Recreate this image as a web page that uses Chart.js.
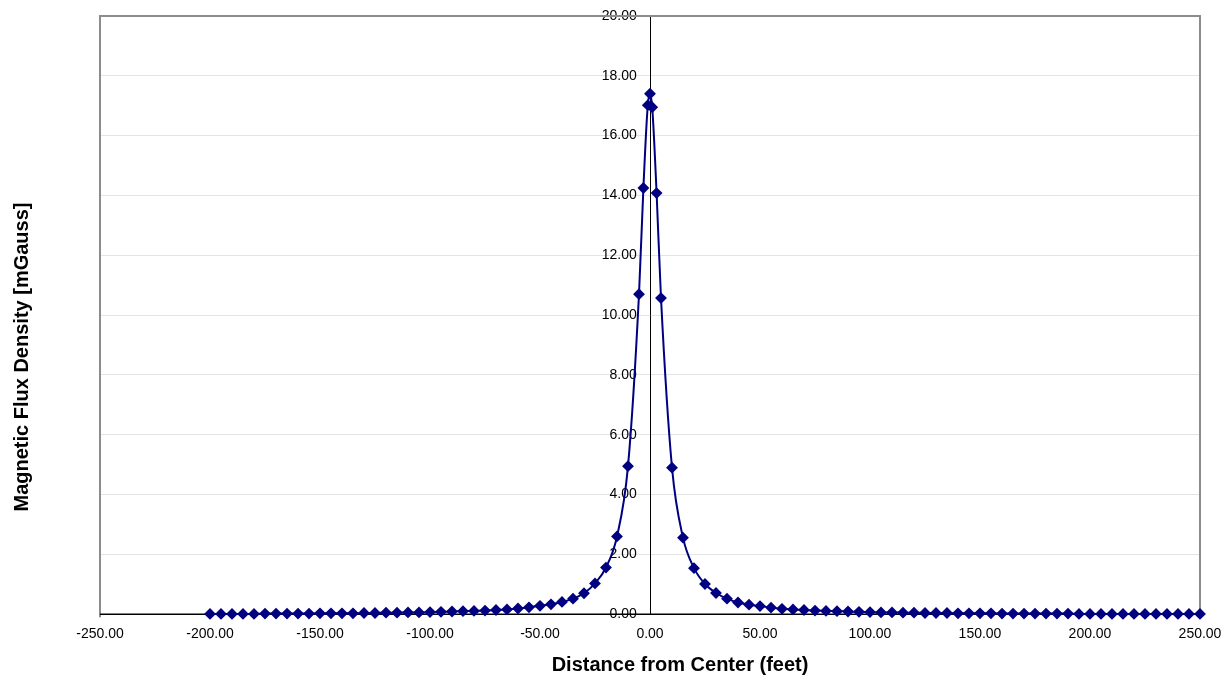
<!DOCTYPE html>
<html>
<head>
<meta charset="utf-8">
<script src="https://cdn.jsdelivr.net/npm/chart.js@4/dist/chart.umd.min.js"></script>
<style>
  html, body { margin: 0; padding: 0; background: #fff; }
  #wrap { width: 1230px; height: 682px; position: relative; }
</style>
</head>
<body>
<div id="wrap"><canvas id="fluxChart"></canvas></div>
<script>
// distance from center (feet)
const distances = [
    -200, -195, -190, -185, -180, -175, -170, -165, -160, -155,
    -150, -145, -140, -135, -130, -125, -120, -115, -110, -105,
    -100, -95, -90, -85, -80, -75, -70, -65, -60, -55,
    -50, -45, -40, -35, -30, -25, -20, -15, -10, -5,
    -3, -1, 0, 1, 3,
    5, 10, 15, 20, 25, 30, 35, 40, 45, 50,
    55, 60, 65, 70, 75, 80, 85, 90, 95, 100,
    105, 110, 115, 120, 125, 130, 135, 140, 145, 150,
    155, 160, 165, 170, 175, 180, 185, 190, 195, 200,
    205, 210, 215, 220, 225, 230, 235, 240, 245, 250
];

// magnetic flux density (mGauss)
const fluxDensity = [
    0.01, 0.01, 0.01, 0.01, 0.01, 0.02, 0.02, 0.02, 0.02, 0.02,
    0.03, 0.03, 0.03, 0.03, 0.04, 0.04, 0.05, 0.05, 0.06, 0.06,
    0.07, 0.08, 0.09, 0.10, 0.11, 0.12, 0.14, 0.16, 0.19, 0.23,
    0.28, 0.33, 0.41, 0.52, 0.70, 1.03, 1.56, 2.60, 4.95, 10.70,
    14.25, 17.02, 17.40, 16.95, 14.08,
    10.57, 4.90, 2.56, 1.54, 1.01, 0.71, 0.52, 0.39, 0.32, 0.27,
    0.22, 0.18, 0.16, 0.14, 0.12, 0.11, 0.10, 0.09, 0.08, 0.07,
    0.06, 0.06, 0.05, 0.05, 0.04, 0.04, 0.04, 0.03, 0.03, 0.03,
    0.03, 0.02, 0.02, 0.02, 0.02, 0.02, 0.02, 0.02, 0.01, 0.01,
    0.01, 0.01, 0.01, 0.01, 0.01, 0.01, 0.01, 0.01, 0.01, 0.01
];

const xTitle = 'Distance from Center (feet)';
const yTitle = 'Magnetic Flux Density [mGauss]';

const FONT = '"Liberation Sans", Arial, sans-serif';

// gray frame on left, top and right of plot area
const frameBox = {
    id: 'frameBox',
    beforeDatasetsDraw(chart) {
        const { ctx, chartArea: a } = chart;
        ctx.save();
        ctx.strokeStyle = '#8c8c8c';
        ctx.lineWidth = 2;
        ctx.beginPath();
        ctx.moveTo(a.left, a.bottom + 3);
        ctx.lineTo(a.left, a.top);
        ctx.lineTo(a.right, a.top);
        ctx.lineTo(a.right, a.bottom);
        ctx.stroke();
        // x axis line back on top
        ctx.strokeStyle = '#000';
        ctx.lineWidth = 1.5;
        ctx.beginPath();
        ctx.moveTo(a.left, a.bottom);
        ctx.lineTo(a.right, a.bottom);
        ctx.stroke();
        ctx.restore();
    }
};

// axis titles, placed like the original sheet
const axisTitles = {
    id: 'axisTitles',
    afterDraw(chart) {
        const { ctx } = chart;
        ctx.save();
        ctx.font = 'bold 20px ' + FONT;
        ctx.fillStyle = '#000';
        ctx.textAlign = 'center';
        ctx.textBaseline = 'middle';
        ctx.fillText(xTitle, 680, 665);
        ctx.translate(22, 357);
        ctx.rotate(-Math.PI / 2);
        ctx.fillText(yTitle, 0, 0);
        ctx.restore();
    }
};

const yTickOpts = {
    stepSize: 2,
    color: '#000',
    font: { family: FONT, size: 14 },
    callback: v => v.toFixed(2)
};

new Chart(document.getElementById('fluxChart'), {
    type: 'scatter',
    data: {
        datasets: [{
            label: 'Flux',
            data: distances.map((d, i) => ({ x: d, y: fluxDensity[i] })),
            showLine: true,
            borderColor: '#000080',
            backgroundColor: '#000080',
            borderWidth: 2,
            pointStyle: 'rectRot',
            pointRadius: 4.5,
            pointHoverRadius: 4.5,
            cubicInterpolationMode: 'monotone',
            clip: false
        }]
    },
    options: {
        responsive: true,
        maintainAspectRatio: false,
        animation: false,
        layout: { padding: { left: 100, right: 30, top: 16, bottom: 35 } },
        plugins: {
            legend: { display: false },
            tooltip: { enabled: false }
        },
        scales: {
            x: {
                type: 'linear',
                min: -250,
                max: 250,
                grid: { display: false },
                border: { color: '#000', width: 1 },
                ticks: {
                    stepSize: 50,
                    color: '#000',
                    padding: 4,
                    font: { family: FONT, size: 14 },
                    maxRotation: 0,
                    callback: v => v.toFixed(2)
                }
            },
            y: {
                type: 'linear',
                position: { x: 0 },
                min: 0,
                max: 20,
                grid: { color: '#e4e4e4', drawTicks: false },
                border: { color: '#000', width: 1 },
                ticks: { ...yTickOpts, display: false }
            },
            // labels only, set a little left of the center line
            yLabels: {
                type: 'linear',
                position: { x: -6 },
                min: 0,
                max: 20,
                grid: { display: false, drawTicks: false },
                border: { display: false },
                ticks: yTickOpts
            }
        }
    },
    plugins: [frameBox, axisTitles]
});
</script>
</body>
</html>
